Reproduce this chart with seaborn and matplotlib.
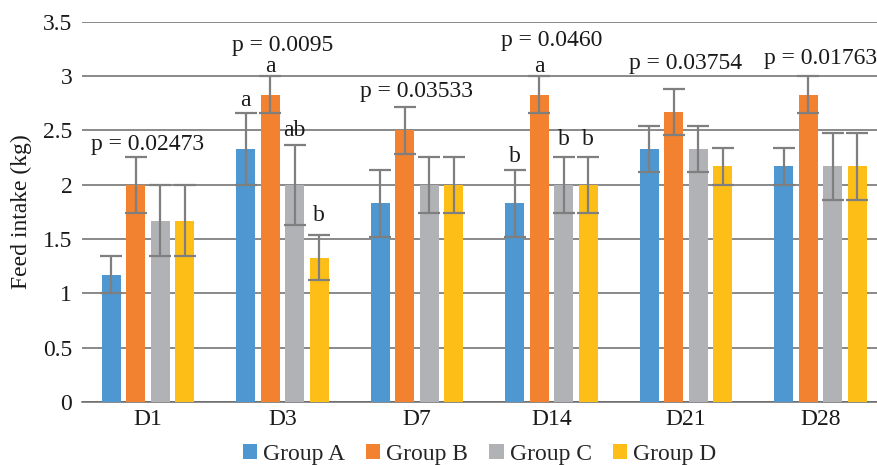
import matplotlib
matplotlib.use("Agg")
import matplotlib.pyplot as plt
import seaborn as sns
import pandas as pd
import numpy as np

days = ["D1", "D3", "D7", "D14", "D21", "D28"]
groups = ["Group A", "Group B", "Group C", "Group D"]
colors = ["#4E97D1", "#F28130", "#B1B2B5", "#FDBF17"]

# mean feed intake per day, one list per group
group_a = [1.17, 2.33, 1.83, 1.83, 2.33, 2.17]
group_b = [2.00, 2.83, 2.50, 2.83, 2.67, 2.83]
group_c = [1.67, 2.00, 2.00, 2.00, 2.33, 2.17]
group_d = [1.67, 1.33, 2.00, 2.00, 2.17, 2.17]

err_a = [0.17, 0.33, 0.31, 0.31, 0.21, 0.17]
err_b = [0.26, 0.17, 0.22, 0.17, 0.21, 0.17]
err_c = [0.33, 0.37, 0.26, 0.26, 0.21, 0.31]
err_d = [0.33, 0.21, 0.26, 0.26, 0.17, 0.31]

p_labels = ["p = 0.02473", "p = 0.0095", "p = 0.03533",
            "p = 0.0460", "p = 0.03754", "p = 0.01763"]
p_heights = [2.37, 3.28, 2.86, 3.33, 3.12, 3.16]

# significance letters: (day index, group index, text, y)
letters = [
    (1, 0, "a", 2.78), (1, 1, "a", 3.09), (1, 2, "ab", 2.50), (1, 3, "b", 1.72),
    (3, 0, "b", 2.26), (3, 1, "a", 3.09), (3, 2, "b", 2.42), (3, 3, "b", 2.42),
]

means = [group_a, group_b, group_c, group_d]
errs = [err_a, err_b, err_c, err_d]

df = pd.DataFrame({
    "day": np.tile(days, len(groups)),
    "group": np.repeat(groups, len(days)),
    "value": np.concatenate(means),
})

sns.set_style("white")
plt.rcParams["font.family"] = ["Liberation Serif", "DejaVu Serif"]

fig, ax = plt.subplots(figsize=(8.77, 4.65), dpi=100)
sns.barplot(data=df, x="day", y="value", hue="group", order=days,
            hue_order=groups, palette=colors, errorbar=None, saturation=1,
            width=0.73, gap=0.22, ax=ax, zorder=3, linewidth=0)

bar_containers = list(ax.containers)

# errorbars from bar positions
for gi, cont in enumerate(bar_containers):
    for di, bar in enumerate(cont):
        cx = bar.get_x() + bar.get_width() / 2
        ax.errorbar(cx, means[gi][di], yerr=errs[gi][di], color="#7F7F7F",
                    capsize=8, elinewidth=1.6, capthick=1.6, zorder=4)

for di, (txt, h) in enumerate(zip(p_labels, p_heights)):
    ax.text(di, h, txt, ha="center", va="center", fontsize=17, color="#1a1a1a")

for di, gi, txt, h in letters:
    bar = bar_containers[gi][di]
    cx = bar.get_x() + bar.get_width() / 2
    ax.text(cx, h, txt, ha="center", va="center", fontsize=17, color="#1a1a1a")

ax.set_ylim(0, 3.5)
ax.set_yticks(np.arange(0, 3.51, 0.5))
ax.set_yticklabels(["0", "0.5", "1", "1.5", "2", "2.5", "3", "3.5"])
ax.set_xlim(-0.49, 5.42)
ax.yaxis.grid(True, color="#6a6a6a", linewidth=1.1, zorder=0)
for s in ["top", "right", "left"]:
    ax.spines[s].set_visible(False)
ax.spines["bottom"].set_color("#6a6a6a")
ax.spines["bottom"].set_linewidth(1.1)
ax.tick_params(axis="both", length=0, labelsize=17, colors="#1a1a1a")
ax.tick_params(axis="y", pad=7)
ax.tick_params(axis="x", pad=5)
ax.set_xlabel("")
ax.set_ylabel("Feed intake (kg)", fontsize=17, color="#1a1a1a", labelpad=8)

ax.legend(loc="center", bbox_to_anchor=(0.5, -0.137), ncol=4,
          frameon=False, fontsize=17, handlelength=0.6, handleheight=0.6,
          handletextpad=0.25, columnspacing=0.9, borderpad=0)

plt.subplots_adjust(left=0.0935, right=1.0, top=0.953, bottom=0.1355)
fig.savefig("out.png", dpi=100)
